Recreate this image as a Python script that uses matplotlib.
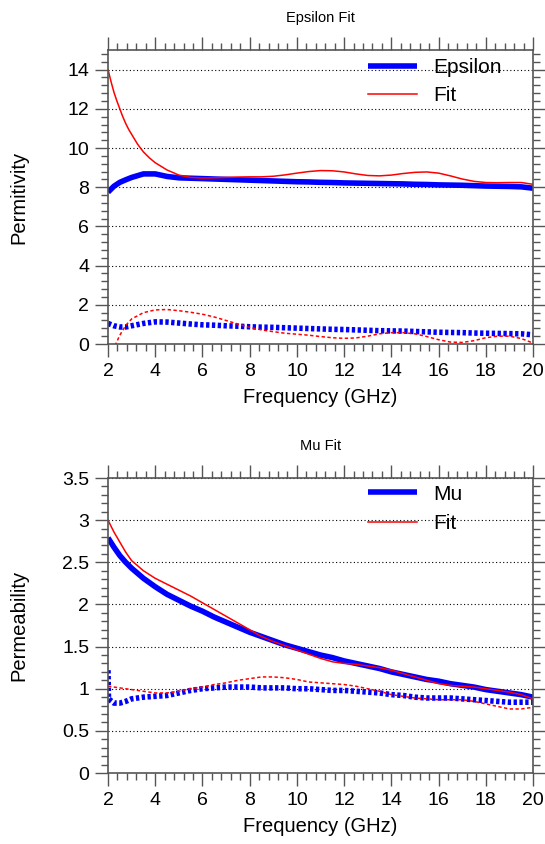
import matplotlib
matplotlib.use("Agg")
import matplotlib.pyplot as plt
from matplotlib.ticker import MultipleLocator, FuncFormatter

plt.rcParams['font.family'] = ['Liberation Sans', 'DejaVu Sans']

# frequency points (GHz)
freq = [2.0, 2.25, 2.5, 2.75, 3.0, 3.5, 4.0, 4.5, 5.0, 5.5, 6.0, 6.5, 7.0,
        7.5, 8.0, 8.5, 9.0, 9.5, 10.0, 10.5, 11.0, 11.5, 12.0, 12.5, 13.0,
        13.5, 14.0, 14.5, 15.0, 15.5, 16.0, 16.5, 17.0, 17.5, 18.0, 18.5,
        19.0, 19.5, 20.0]
# denser points near 2 GHz for the steep fitted permittivity
freq_eps_fit = [2.0, 2.125, 2.25, 2.375, 2.5, 2.625, 2.75, 2.875, 3.0, 3.25,
                3.5, 3.75, 4.0] + freq[7:]

# permittivity, measured and fitted (real / imaginary)
eps_re = [7.75, 8.05, 8.25, 8.38, 8.5, 8.68, 8.68, 8.55, 8.48, 8.46, 8.44,
          8.42, 8.40, 8.38, 8.36, 8.34, 8.32, 8.30, 8.28, 8.27, 8.25, 8.24,
          8.22, 8.21, 8.20, 8.19, 8.18, 8.17, 8.15, 8.14, 8.12, 8.11, 8.10,
          8.08, 8.06, 8.05, 8.04, 8.02, 7.95]
eps_fit_re = [14.0, 13.4, 12.85, 12.4, 12.0, 11.6, 11.25, 10.95, 10.7, 10.2,
              9.8, 9.5, 9.25, 8.88, 8.62, 8.5,
              8.47, 8.48, 8.5, 8.52, 8.53, 8.53, 8.56, 8.63, 8.72, 8.8, 8.85,
              8.84, 8.78, 8.68, 8.6, 8.58, 8.62, 8.7, 8.76, 8.78, 8.72, 8.58,
              8.42, 8.3, 8.24, 8.23, 8.24, 8.24, 8.15]
eps_im = [1.05, 0.93, 0.87, 0.87, 0.93, 1.05, 1.13, 1.12, 1.07, 1.02, 0.98,
          0.96, 0.93, 0.91, 0.88, 0.86, 0.85, 0.83, 0.81, 0.79, 0.77, 0.75,
          0.74, 0.72, 0.70, 0.68, 0.67, 0.66, 0.64, 0.62, 0.60, 0.59, 0.58,
          0.56, 0.55, 0.54, 0.53, 0.52, 0.47]
eps_fit_im = [-0.9, -0.2, 0.45, 0.95, 1.28, 1.6, 1.74, 1.76, 1.7, 1.62, 1.52,
              1.38, 1.2, 1.02, 0.85, 0.72, 0.63, 0.55, 0.5, 0.45, 0.38, 0.32,
              0.29, 0.31, 0.4, 0.52, 0.58, 0.58, 0.52, 0.38, 0.22, 0.1, 0.08,
              0.17, 0.32, 0.4, 0.4, 0.28, 0.05]

# permeability, measured and fitted
mu_re = [2.79, 2.68, 2.58, 2.5, 2.43, 2.31, 2.21, 2.12, 2.05, 1.98, 1.92,
         1.85, 1.79, 1.73, 1.67, 1.62, 1.57, 1.52, 1.48, 1.44, 1.40, 1.37,
         1.33, 1.30, 1.27, 1.24, 1.20, 1.17, 1.14, 1.11, 1.09, 1.06, 1.04,
         1.02, 0.99, 0.97, 0.95, 0.93, 0.90]
mu_fit_re = [3.0, 2.86, 2.74, 2.62, 2.52, 2.4, 2.31, 2.24, 2.17, 2.1, 2.02,
             1.94, 1.86, 1.78, 1.7, 1.62, 1.56, 1.51, 1.46, 1.41, 1.36, 1.32,
             1.3, 1.29, 1.27, 1.25, 1.22, 1.18, 1.14, 1.1, 1.06, 1.04, 1.03,
             1.02, 1.0, 0.98, 0.96, 0.93, 0.88]
freq_mu_im = [2.0, 2.02] + freq[1:]
mu_im = [1.22, 0.88, 0.83, 0.83, 0.85, 0.88, 0.9, 0.91, 0.92, 0.95, 0.98,
         1.0, 1.01, 1.02, 1.02, 1.02, 1.01, 1.01, 1.01, 1.0, 1.0, 0.99, 0.98,
         0.98, 0.97, 0.96, 0.95, 0.93, 0.92, 0.9, 0.89, 0.89, 0.89, 0.88,
         0.87, 0.86, 0.85, 0.84, 0.84, 0.84]
mu_fit_im = [1.03, 1.02, 1.01, 1.0, 0.99, 0.97, 0.95, 0.95, 0.97, 1.0, 1.02,
             1.05, 1.07, 1.1, 1.12, 1.14, 1.14, 1.13, 1.11, 1.08, 1.07, 1.06,
             1.05, 1.03, 1.0, 0.97, 0.93, 0.91, 0.89, 0.88, 0.87, 0.87, 0.87,
             0.85, 0.82, 0.79, 0.76, 0.76, 0.78]

gray = '#555555'
blue_dots = (0, (0.6, 0.45))
red_dots = (0, (2.2, 1.6))


def style_axes(ax, ymax, ymajor, yminor, title, ylabel):
    ax.set_xlim(2, 20)
    ax.set_ylim(0, ymax)
    ax.xaxis.set_major_locator(MultipleLocator(2))
    ax.xaxis.set_minor_locator(MultipleLocator(0.4))
    ax.yaxis.set_major_locator(MultipleLocator(ymajor))
    ax.yaxis.set_minor_locator(MultipleLocator(yminor))
    ax.yaxis.set_major_formatter(FuncFormatter(lambda v, p: '%g' % v))
    ax.tick_params(which='both', direction='out', top=True, right=True,
                   color=gray, width=1, labelsize=14, pad=4)
    ax.tick_params(which='major', length=9.5)
    ax.tick_params(which='minor', length=5)
    for s in ax.spines.values():
        s.set_color(gray)
        s.set_linewidth(1.2)
    ax.set_axisbelow(True)
    ax.grid(axis='y', which='major', color='black', linestyle=(0, (1, 2.2)),
            linewidth=0.8)
    ax.set_xlabel('Frequency (GHz)', fontsize=14.5)
    ax.xaxis.set_label_coords(0.5, -0.150)
    ax.xaxis.label.set_va('top')
    ax.set_ylabel(ylabel, fontsize=14.5)
    ax.yaxis.set_label_coords(-0.188, 0.5)
    ax.text(0.5, 1.109, title, transform=ax.transAxes, ha='center',
            va='center', fontsize=10.5)


fig = plt.figure(figsize=(5.45, 8.44), dpi=100)
ax1 = fig.add_axes([0.1982, 0.5924, 0.7798, 0.3483])
ax2 = fig.add_axes([0.1982, 0.0841, 0.7798, 0.3495])

# permittivity panel
ax1.plot(freq, eps_re, color='#0000ff', linewidth=4, label='Epsilon',
         solid_capstyle='butt')
ax1.plot(freq_eps_fit, eps_fit_re, color='#ff0000', linewidth=1.1,
         label='Fit')
ax1.plot(freq, eps_im, color='#0000ff', linewidth=4, linestyle=blue_dots)
ax1.plot(freq, eps_fit_im, color='#ff0000', linewidth=1.1, linestyle=red_dots)
style_axes(ax1, 15, 2, 0.4, 'Epsilon Fit', 'Permitivity')
ax1.legend(loc='upper left', bbox_to_anchor=(0.612, 0.972), frameon=False,
           fontsize=15, handlelength=2.35, handletextpad=0.77,
           labelspacing=0.44, borderpad=0, borderaxespad=0)

# permeability panel
ax2.plot(freq, mu_re, color='#0000ff', linewidth=4, label='Mu',
         solid_capstyle='butt')
ax2.plot(freq, mu_fit_re, color='#ff0000', linewidth=1.1, label='Fit')
ax2.plot(freq_mu_im, mu_im, color='#0000ff', linewidth=4, linestyle=blue_dots)
ax2.plot(freq, mu_fit_im, color='#ff0000', linewidth=1.1, linestyle=red_dots)
style_axes(ax2, 3.5, 0.5, 0.1, 'Mu Fit', 'Permeability')
ax2.legend(loc='upper left', bbox_to_anchor=(0.612, 0.978), frameon=False,
           fontsize=15, handlelength=2.35, handletextpad=0.77,
           labelspacing=0.5, borderpad=0, borderaxespad=0)

fig.savefig('out.png', dpi=100)
